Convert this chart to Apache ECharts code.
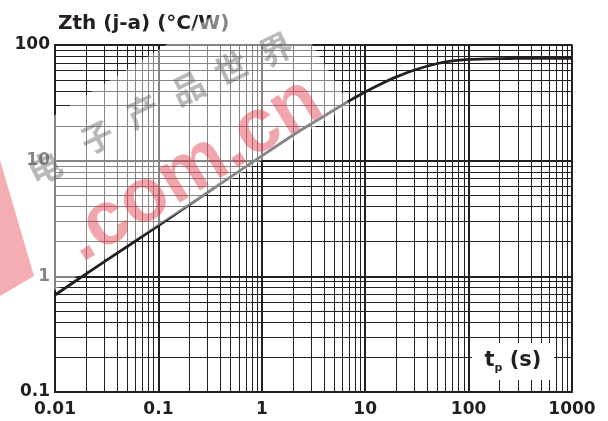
<!DOCTYPE html>
<html>
<head>
<meta charset="utf-8">
<script src="https://cdn.jsdelivr.net/npm/echarts@6/dist/echarts.min.js"></script>
<style>
html,body{margin:0;padding:0;background:#fff;}
#chart{width:608px;height:421px;}
</style>
</head>
<body>
<div id="chart"></div>
<script>
// ---- data ----
var tp = [0.01, 0.02, 0.05, 0.1, 0.2, 0.5, 1, 2, 3, 5, 7, 10, 15, 20, 30, 50, 70, 100, 150, 200, 300, 500, 1000];
var zth = [0.69, 1.05, 1.81, 2.75, 4.17, 7.24, 11.0, 16.6, 20.8, 27.4, 32.9, 39.3, 47.2, 53.0, 60.8, 69.2, 72.9, 75.0, 76.0, 76.3, 76.5, 76.5, 76.5];
var xTickLabels = ['0.01', '0.1', '1', '10', '100', '1000'];
var yTickLabels = ['0.1', '1', '10', '100'];
var titleText = 'Zth (j-a) (°C/W)';
var watermarkCN = ['电', '子', '产', '品', '世', '界'];
var watermarkEN = '.com.cn';

// minor log grid positions (2..9 per decade)
var xDecades = [0.01, 0.1, 1, 10, 100];
var yDecades = [0.1, 1, 10];
var xMinor = [], yMinor = [];
xDecades.forEach(function (d) { for (var m = 2; m <= 9; m++) xMinor.push(+(d * m).toPrecision(3)); });
yDecades.forEach(function (d) { for (var m = 2; m <= 9; m++) yMinor.push(+(d * m).toPrecision(3)); });

var ink = '#231f20';
var fontF = 'DejaVu Sans';

function fmt(list) {
  return function (v) {
    for (var i = 0; i < list.length; i++) {
      if (Math.abs(Math.log10(v) - Math.log10(parseFloat(list[i]))) < 1e-6) return list[i];
    }
    return '';
  };
}

var chart = echarts.init(document.getElementById('chart'), null, {renderer: 'canvas'});

// watermark character placements
var cnPos = [[45, 168], [97, 137], [143, 111], [188, 88], [231, 68], [276, 49]];
var graphics = [
  { type: 'rect', z: 90, silent: true,
    shape: {x: 472, y: 343, width: 82, height: 37}, style: {fill: '#fff'} },
  { type: 'text', z: 91, silent: true, x: 513, y: 361,
    style: { text: '{t|t}{p|p}{t| (s)}', align: 'center', verticalAlign: 'middle',
      rich: {
        t: {fontFamily: fontF, fontWeight: 'bold', fontSize: 21, fill: ink, lineHeight: 26},
        p: {fontFamily: fontF, fontWeight: 'bold', fontSize: 11, fill: ink, lineHeight: 26, verticalAlign: 'bottom'}
      } } },
  { type: 'polygon', z: 100, silent: true,
    shape: {points: [[-20, 337], [350, 105], [271, -21], [-20, 162]]},
    style: {fill: 'rgba(255,255,255,0.45)'} },
  { type: 'polygon', z: 101, silent: true,
    shape: {points: [[0, 160], [34, 276], [0, 296]]},
    style: {fill: 'rgba(228,60,75,0.42)'} },
  { type: 'text', z: 102, silent: true, x: 193, y: 170, rotation: 0.55,
    style: {text: watermarkEN, font: 'bold 76px "Liberation Sans"', fill: 'rgba(225,55,72,0.45)',
      align: 'center', verticalAlign: 'middle'} }
];
watermarkCN.forEach(function (c, i) {
  graphics.push({ type: 'text', z: 103, silent: true, x: cnPos[i][0], y: cnPos[i][1], rotation: 0.45,
    style: {text: c, font: 'bold 33px "Noto Sans CJK SC"', fill: 'rgba(100,100,100,0.45)',
      align: 'center', verticalAlign: 'middle'} });
});

var option = {
  animation: false,
  backgroundColor: '#fff',
  title: {
    text: titleText, left: 53, top: 9,
    textStyle: {fontFamily: fontF, fontWeight: 'bold', fontSize: 20, color: ink}
  },
  grid: {left: 55, right: 36, top: 45, bottom: 29, show: true, borderColor: ink, borderWidth: 1.5, containLabel: false},
  xAxis: {
    type: 'log', logBase: 10, min: 0.01, max: 1000,
    axisLine: {show: true, lineStyle: {color: ink, width: 2}},
    axisTick: {show: false},
    axisLabel: {formatter: fmt(xTickLabels), margin: 9, color: ink, fontFamily: fontF, fontWeight: 'bold', fontSize: 17, showMinLabel: true, showMaxLabel: true},
    splitLine: {show: true, lineStyle: {color: ink, width: 2}}
  },
  yAxis: {
    type: 'log', logBase: 10, min: 0.1, max: 100,
    axisLine: {show: true, lineStyle: {color: ink, width: 2}},
    axisTick: {show: false},
    axisLabel: {formatter: fmt(yTickLabels), margin: 5, color: ink, fontFamily: fontF, fontWeight: 'bold', fontSize: 17, showMinLabel: true, showMaxLabel: true},
    splitLine: {show: true, lineStyle: {color: ink, width: 2}}
  },
  series: [
    {
      type: 'line', data: [], silent: true, z: 1,
      markLine: {
        silent: true, symbol: 'none', label: {show: false},
        lineStyle: {color: ink, width: 1, type: 'solid'},
        emphasis: {disabled: true},
        data: xMinor.map(function (v) { return {xAxis: v}; }).concat(yMinor.map(function (v) { return {yAxis: v}; }))
      }
    },
    {
      type: 'line', z: 5, showSymbol: false, symbol: 'none', smooth: 0.3,
      lineStyle: {color: ink, width: 2.8},
      data: tp.map(function (x, i) { return [x, zth[i]]; })
    }
  ],
  graphic: {elements: graphics}
};
chart.setOption(option);
</script>
</body>
</html>
